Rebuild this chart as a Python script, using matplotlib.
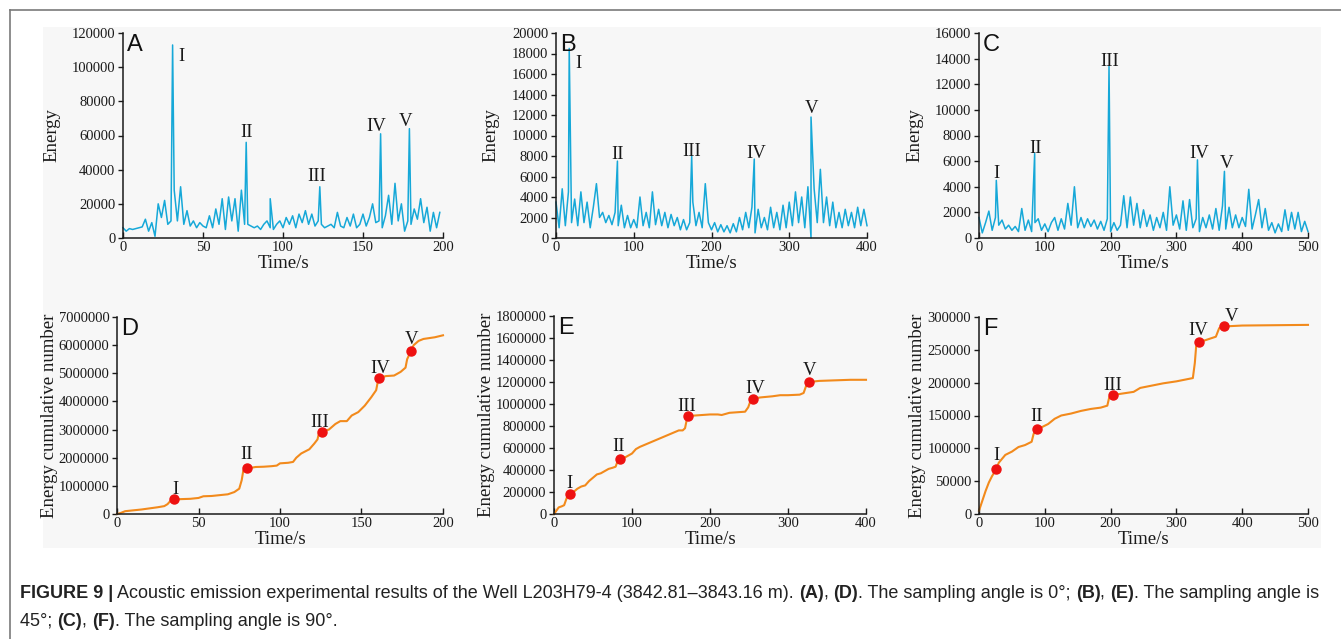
import numpy as np
import matplotlib
matplotlib.use("Agg")
import matplotlib.pyplot as plt
from matplotlib.patches import Rectangle
from matplotlib.lines import Line2D

# ---------------- data ----------------
# Panel A (0 deg): baseline energy sampled every 2 s (x1000) + peaks
a_step = 2
a_base = [6, 4, 5.5, 5, 5.5, 6, 6.5, 11, 4, 9, 1, 20, 12, 22, 8, 10, 28, 10, 30, 8,
          16, 7, 10, 6, 9, 7, 6, 13, 6, 17, 8, 23, 5, 24, 10, 23, 4, 28, 8, 8,
          7, 6, 7, 5, 8, 10, 6, 5, 8, 10, 6, 12, 8, 13, 6, 14, 9, 16, 8, 14,
          7, 10, 8, 6, 7, 8, 6, 15, 7, 6, 12, 7, 14, 6, 8, 14, 7, 12, 20, 9,
          10, 6, 13, 25, 8, 32, 10, 20, 4, 10, 8, 17, 11, 23, 9, 18, 4, 15, 6, 15]
a_peak_t = [31, 77, 92, 123, 161, 179]
a_peak_v = [113, 56, 23, 30, 61, 64]

# Panel B (45 deg): baseline every 4 s (x1000) + peaks
b_step = 4
b_base = [3.5, 1.0, 4.8, 1.2, 4.5, 1.5, 3.8, 1.2, 4.5, 1.5, 3.5, 1.0, 3.0, 5.3, 2.0, 2.5,
          1.5, 2.2, 1.3, 2.5, 1.2, 3.2, 1.0, 2.2, 1.0, 1.8, 1.0, 4.0, 1.2, 2.5, 1.0, 4.5,
          1.3, 2.8, 1.2, 2.5, 1.0, 2.3, 1.2, 2.0, 0.8, 1.8, 0.8, 1.5, 3.5, 1.2, 2.5, 1.0,
          5.3, 1.5, 0.8, 1.5, 0.6, 1.3, 0.6, 1.2, 0.5, 1.4, 0.6, 2.0, 0.8, 2.5, 1.0, 3.0,
          0.5, 2.8, 1.0, 2.0, 0.8, 3.0, 1.0, 2.5, 0.8, 3.2, 1.0, 3.5, 1.2, 4.5, 1.5, 4.0,
          1.0, 5.0, 0.0, 4.8, 1.5, 6.7, 1.5, 4.0, 1.2, 3.5, 1.0, 2.5, 1.0, 2.8, 1.2, 2.5,
          1.0, 3.0, 1.2, 2.8, 1.2]
b_peak_t = [17, 79, 174.5, 255, 328]
b_peak_v = [18.5, 7.5, 8.0, 7.7, 11.8]

# Panel C (90 deg): baseline every 5 s (x1000) + peaks
c_step = 5
c_base = [1.6, 0.4, 1.2, 2.1, 0.6, 1.6, 1.0, 1.4, 0.7, 1.0, 0.6, 0.9, 0.5, 2.3, 0.6, 1.4,
          0.5, 1.2, 1.5, 0.6, 1.1, 0.5, 1.2, 1.6, 0.6, 1.5, 0.7, 2.7, 1.0, 4.0, 0.8, 1.6,
          0.8, 1.5, 0.9, 1.4, 0.7, 1.3, 0.6, 1.5, 0.5, 1.2, 0.6, 1.0, 3.3, 0.8, 3.2, 1.0,
          2.7, 0.8, 2.2, 0.9, 1.8, 0.6, 1.6, 0.8, 2.0, 0.6, 4.0, 1.0, 1.8, 0.7, 2.9, 0.6,
          3.0, 0.8, 1.5, 0.5, 1.6, 0.8, 1.8, 0.7, 2.3, 0.6, 2.5, 0.7, 2.4, 0.8, 1.8, 0.8,
          1.6, 0.9, 3.8, 0.7, 1.8, 3.0, 0.8, 2.3, 0.6, 1.2, 0.4, 1.1, 0.5, 2.2, 0.6, 2.0,
          0.7, 2.0, 0.5, 1.3, 0.5]
c_peak_t = [26.3, 84.6, 197.6, 332, 373]
c_peak_v = [4.5, 6.6, 13.4, 6.1, 5.2]

# Panel D cumulative (x1e6)
d_t = [0, 2, 5, 10, 15, 20, 25, 29, 31, 33, 35.2, 40, 45, 50, 53, 58, 63, 68, 72, 75,
       76.5, 77.5, 80, 85, 90, 95, 98, 100, 105, 108, 110, 113, 118, 121, 123, 124,
       125.6, 130, 134, 137, 141, 144, 148, 152, 156, 159, 160, 161, 165, 170, 174,
       177, 178, 180.4, 182, 185, 188, 195, 200]
d_v = [0, 0.03, 0.1, 0.13, 0.16, 0.2, 0.24, 0.28, 0.35, 0.48, 0.52, 0.53, 0.54, 0.57,
       0.63, 0.64, 0.67, 0.7, 0.78, 0.9, 1.2, 1.55, 1.62, 1.67, 1.68, 1.7, 1.72, 1.8,
       1.82, 1.85, 2.0, 2.15, 2.3, 2.5, 2.65, 2.9, 2.92, 3.0, 3.2, 3.3, 3.3, 3.5, 3.62,
       3.85, 4.15, 4.4, 4.7, 4.84, 4.9, 4.92, 5.05, 5.2, 5.5, 5.8, 6.0, 6.15, 6.22,
       6.28, 6.35]
d_mark_t = [35.2, 80, 125.6, 161, 180.4]
d_mark_v = [0.52, 1.62, 2.92, 4.84, 5.80]

# Panel E cumulative (x1e6)
e_t = [0, 3, 6, 10, 13, 15, 17, 20.5, 25, 30, 35, 40, 45, 50, 55, 60, 65, 70, 75, 79,
       81, 84.6, 90, 95, 100, 105, 110, 120, 130, 140, 150, 160, 165, 168, 170, 172,
       180, 190, 200, 210, 215, 220, 225, 235, 245, 249, 252, 255.5, 265, 280, 290,
       300, 315, 320, 323, 327, 340, 360, 380, 400]
e_v = [0, 0.03, 0.06, 0.07, 0.08, 0.12, 0.16, 0.18, 0.2, 0.23, 0.25, 0.26, 0.3, 0.33,
       0.36, 0.37, 0.39, 0.41, 0.42, 0.43, 0.47, 0.5, 0.51, 0.53, 0.55, 0.59, 0.61,
       0.64, 0.67, 0.7, 0.73, 0.76, 0.76, 0.78, 0.85, 0.89, 0.895, 0.9, 0.905, 0.905,
       0.9, 0.91, 0.92, 0.925, 0.93, 0.97, 1.03, 1.05, 1.06, 1.07, 1.08, 1.08, 1.085,
       1.1, 1.16, 1.2, 1.21, 1.215, 1.22, 1.22]
e_mark_t = [20.5, 84.6, 172, 255.5, 327]
e_mark_v = [0.18, 0.5, 0.89, 1.05, 1.2]

# Panel F cumulative (x1000)
f_t = [0, 5, 10, 15, 20, 26.4, 30, 40, 50, 60, 70, 80, 83, 87.7, 95, 105, 115, 125,
       140, 155, 170, 185, 195, 198, 203, 215, 235, 245, 260, 280, 300, 315, 325, 328,
       330, 335, 345, 360, 365, 373, 380, 400, 500]
f_v = [5, 20, 35, 48, 58, 68, 78, 90, 95, 102, 105, 110, 122, 129, 132, 137, 145, 150,
       153, 157, 160, 162, 165, 178, 181, 183, 186, 192, 195, 199, 202, 205, 207, 230,
       255, 262, 265, 270, 283, 287, 286, 287, 288]
f_mark_t = [26.4, 87.7, 203, 335, 373]
f_mark_v = [68, 129, 181, 262, 287]

roman = ["I", "II", "III", "IV", "V"]
a_lab = [(36.7, 106000), (77.3, 62000), (121, 36000), (158.5, 65000), (176.7, 68000)]
b_lab = [(29.5, 17000), (79.6, 8100), (174.5, 8420), (257.9, 8260), (328.9, 12650)]
c_lab = [(26.9, 5050), (86.3, 7000), (199, 13760), (334.8, 6610), (376.4, 5830)]
d_lab = [(35.8, 0.88e6), (79.8, 2.10e6), (124.5, 3.24e6), (161.7, 5.18e6), (180.4, 6.21e6)]
e_lab = [(19.6, 0.279e6), (83, 0.612e6), (169.6, 0.975e6), (258, 1.143e6), (328, 1.309e6)]
f_lab = [(26.3, 88.8e3), (87.7, 148e3), (203, 196e3), (333, 279e3), (383.9, 300e3)]

caption1 = [("FIGURE 9 |", True),
            (" Acoustic emission experimental results of the Well L203H79-4 (3842.81–3843.16 m). ", False),
            ("(A)", True), (", ", False), ("(D)", True),
            (". The sampling angle is 0°; ", False), ("(B)", True), (", ", False),
            ("(E)", True), (". The sampling angle is", False)]
caption2 = [("45°; ", False), ("(C)", True), (", ", False), ("(F)", True),
            (". The sampling angle is 90°.", False)]

# ---------------- figure ----------------
W, H = 1341, 639
fig = plt.figure(figsize=(W / 100, H / 100), dpi=100)
fig.patch.set_facecolor("white")
fig.patches.append(Rectangle((43 / W, 1 - 548 / H), (1321 - 43) / W, (548 - 27) / H,
                             transform=fig.transFigure, facecolor="#f7f7f7",
                             edgecolor="none", zorder=-5))
fig.lines.append(Line2D([10 / W, 1], [1 - 10 / H, 1 - 10 / H], transform=fig.transFigure,
                        color="#7a7a7a", lw=1.2))
fig.lines.append(Line2D([10 / W, 10 / W], [0, 1 - 10 / H], transform=fig.transFigure,
                        color="#7a7a7a", lw=1.2))

SERIF = "Liberation Serif"
SANS = "Liberation Sans"
BLUE = "#16a8d8"
ORANGE = "#f28a1c"
RED = "#ee1111"
TICK_FS = 10.5
LABEL_FS = 13.5
ROMAN_FS = 13.5


def make_ax(x0, x1, y0, y1):
    ax = fig.add_axes([x0 / W, 1 - y1 / H, (x1 - x0) / W, (y1 - y0) / H])
    ax.set_facecolor("none")
    for s in ("top", "right"):
        ax.spines[s].set_visible(False)
    for s in ("left", "bottom"):
        ax.spines[s].set_linewidth(1.1)
        ax.spines[s].set_color("#1a1a1a")
    ax.tick_params(axis="y", direction="out", length=3.5, width=1.0, pad=2.0,
                   colors="#1a1a1a")
    ax.tick_params(axis="x", direction="in", length=4, width=1.0, pad=2.5,
                   colors="#1a1a1a")
    return ax


def finish(ax, xmax, xstep, ymax, ystep, letter, ylabel, labs, ylpad):
    ax.set_xlim(0, xmax)
    ax.set_ylim(0, ymax)
    xt = np.arange(0, xmax + 1, xstep)
    yt = np.arange(0, ymax + 1, ystep)
    ax.set_xticks(xt)
    ax.set_yticks(yt)
    ax.set_yticklabels([str(int(v)) for v in yt], fontfamily=SERIF, fontsize=TICK_FS)
    ax.set_xticklabels([str(int(v)) for v in xt], fontfamily=SERIF, fontsize=TICK_FS)
    ax.set_xlabel("Time/s", fontfamily=SERIF, fontsize=LABEL_FS, labelpad=0.5, color="#1a1a1a")
    ax.set_ylabel(ylabel, fontfamily=SERIF, fontsize=LABEL_FS, labelpad=ylpad, color="#1a1a1a")
    ax.text(0.012, 0.995, letter, transform=ax.transAxes, fontfamily=SANS, fontsize=17,
            ha="left", va="top", color="#111")
    for r, (x, y) in zip(roman, labs):
        ax.text(x, y, r, fontfamily=SERIF, fontsize=ROMAN_FS, ha="center", va="center",
                color="#1a1a1a")


def merged(step, base, pt, pv, scale):
    t = list(np.arange(len(base)) * step)
    v = list(base)
    t = t + list(pt)
    v = v + list(pv)
    order = np.argsort(t, kind="stable")
    return np.array(t)[order], np.array(v)[order] * scale


# A
axA = make_ax(123, 443, 33, 238)
t, v = merged(a_step, a_base, a_peak_t, a_peak_v, 1000)
axA.plot(t, v, color=BLUE, lw=1.1, clip_on=False)
finish(axA, 200, 50, 120000, 20000, "A", "Energy", a_lab, 8)

# B
axB = make_ax(556, 867, 33, 238)
t, v = merged(b_step, b_base, b_peak_t, b_peak_v, 1000)
axB.plot(t, v, color=BLUE, lw=1.1, clip_on=False)
finish(axB, 400, 100, 20000, 2000, "B", "Energy", b_lab, 9)

# C
axC = make_ax(979, 1308, 33, 238)
t, v = merged(c_step, c_base, c_peak_t, c_peak_v, 1000)
axC.plot(t, v, color=BLUE, lw=1.1, clip_on=False)
finish(axC, 500, 100, 16000, 2000, "C", "Energy", c_lab, 8)

# D
axD = make_ax(117, 443, 317, 514)
axD.plot(d_t, np.array(d_v) * 1e6, color=ORANGE, lw=1.5, clip_on=False)
axD.plot(d_mark_t, np.array(d_mark_v) * 1e6, "o", color=RED, ms=6.5, clip_on=False, zorder=5)
finish(axD, 200, 50, 7000000, 1000000, "D", "Energy cumulative number", d_lab, 0)

# E
axE = make_ax(554, 866, 316, 514)
axE.plot(e_t, np.array(e_v) * 1e6, color=ORANGE, lw=1.5, clip_on=False)
axE.plot(e_mark_t, np.array(e_mark_v) * 1e6, "o", color=RED, ms=6.5, clip_on=False, zorder=5)
finish(axE, 400, 100, 1800000, 200000, "E", "Energy cumulative number", e_lab, 0)

# F
axF = make_ax(979, 1308, 317, 514)
axF.plot(f_t, np.array(f_v) * 1e3, color=ORANGE, lw=1.5, clip_on=False)
axF.plot(f_mark_t, np.array(f_mark_v) * 1e3, "o", color=RED, ms=6.5, clip_on=False, zorder=5)
finish(axF, 500, 100, 300000, 50000, "F", "Energy cumulative number", f_lab, 1)

# ---------------- caption ----------------
renderer = fig.canvas.get_renderer()


def lay_line(pieces, x_px, y_px, size, draw=True):
    x = x_px
    objs = []
    for txt, bold in pieces:
        o = fig.text(x / W, 1 - y_px / H, txt, fontfamily=SANS, fontsize=size,
                     fontweight="bold" if bold else "normal", ha="left", va="center",
                     color="#222222")
        bb = o.get_window_extent(renderer)
        x = bb.x1
        objs.append(o)
    if not draw:
        for o in objs:
            o.remove()
    return x - x_px


size = 11.0
wid = lay_line(caption1, 20, 593, size, draw=False)
size = size * (1318 - 20) / wid
lay_line(caption1, 20, 593, size)
lay_line(caption2, 20, 621, size)

fig.savefig("out.png", dpi=100, facecolor=fig.get_facecolor())
